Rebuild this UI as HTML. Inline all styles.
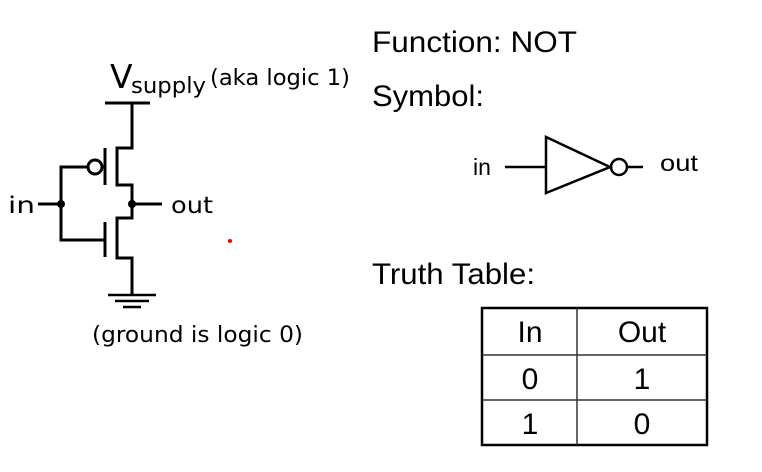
<!DOCTYPE html>
<html><head><meta charset="utf-8"><style>
body{margin:0;background:#fff}
svg{display:block}
text{font-family:"Liberation Sans",Arial,sans-serif;fill:#000}
.c{font-family:"DejaVu Sans","Liberation Sans",sans-serif}
</style></head><body>
<svg width="762" height="472" viewBox="0 0 762 472">
<g stroke="#000" stroke-width="3" fill="none">
<path d="M105 103H150 M132 103V148H117V185H132V218H117V258H132V295"/>
<path d="M108 295H156 M115 301H149 M123 307H141" stroke-width="2.5"/>
<path d="M105 148V185 M105 222V257"/>
<circle cx="95" cy="167" r="7"/>
<path d="M88 167H61V240H105 M38 204H61 M132 204H162"/>
</g>
<circle cx="61" cy="204" r="4" fill="#000"/>
<circle cx="132" cy="204" r="4" fill="#000"/>
<text class="c" x="8" y="213" font-size="23" textLength="27" lengthAdjust="spacingAndGlyphs">in</text>
<text class="c" x="171" y="213" font-size="23" textLength="42" lengthAdjust="spacingAndGlyphs">out</text>
<text class="c" x="110" y="88" font-size="33">V</text>
<text class="c" x="131" y="93" font-size="22" textLength="75" lengthAdjust="spacingAndGlyphs">supply</text>
<text class="c" x="210" y="85" font-size="22" textLength="140" lengthAdjust="spacingAndGlyphs">(aka logic 1)</text>
<text class="c" x="92" y="342" font-size="22" textLength="211" lengthAdjust="spacingAndGlyphs">(ground is logic 0)</text>
<circle cx="230" cy="241" r="2" fill="#e00"/>
<text x="372" y="52" font-size="30" textLength="205" lengthAdjust="spacingAndGlyphs">Function: NOT</text>
<text x="372" y="106" font-size="30" textLength="112" lengthAdjust="spacingAndGlyphs">Symbol:</text>
<g stroke="#000" stroke-width="2.5" fill="none">
<path d="M505 167H546 M546 137V193L610 167Z M627 167H643"/>
<circle cx="619" cy="167" r="8"/>
</g>
<text x="473" y="175" font-size="23">in</text>
<text x="660" y="171" font-size="23" textLength="38" lengthAdjust="spacingAndGlyphs">out</text>
<text x="372" y="284" font-size="30" textLength="163" lengthAdjust="spacingAndGlyphs">Truth Table:</text>
<g>
<rect x="482" y="308" width="225" height="137" fill="none" stroke="#000" stroke-width="2.5"/>
<path d="M577 308V445 M482 355H707 M482 400H707" stroke="#333" stroke-width="1.5"/>
<g font-size="30" text-anchor="middle">
<text x="530" y="342">In</text><text x="642" y="342">Out</text>
<text x="530" y="389">0</text><text x="642" y="389">1</text>
<text x="530" y="434">1</text><text x="642" y="434">0</text>
</g></g>
</svg>
</body></html>
